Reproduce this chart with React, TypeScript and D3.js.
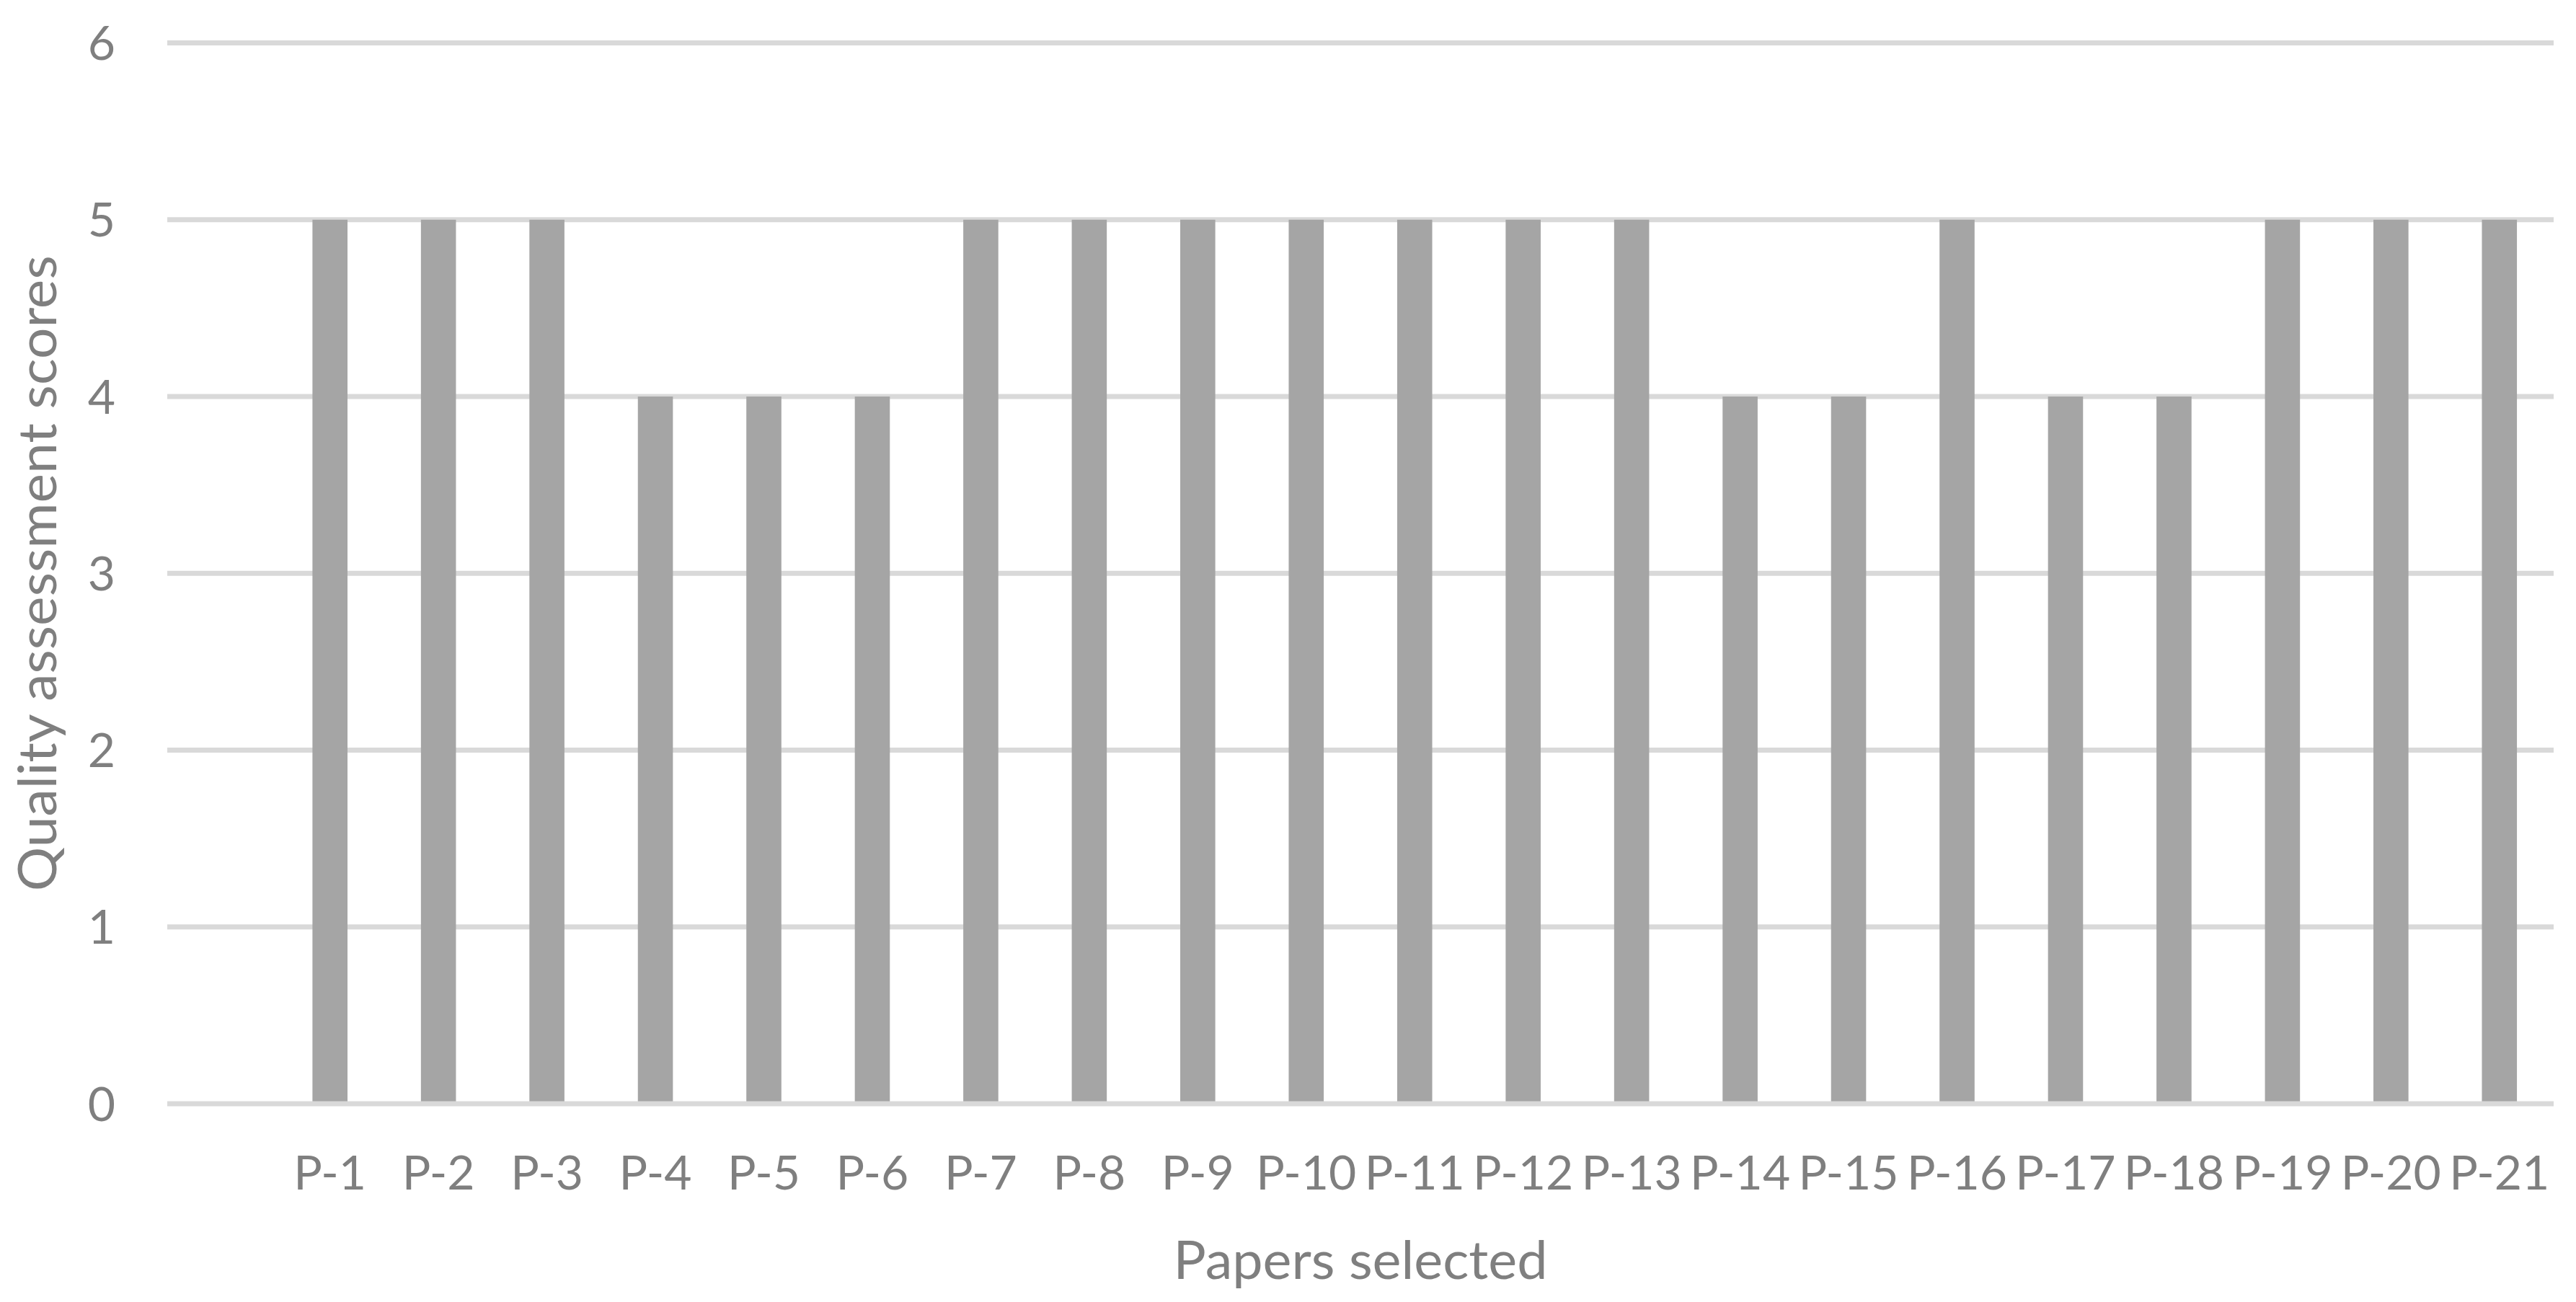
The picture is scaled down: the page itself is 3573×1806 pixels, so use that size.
import React from "react";
import * as d3 from "d3";

const categories: string[] = ["", "P-1", "P-2", "P-3", "P-4", "P-5", "P-6", "P-7", "P-8", "P-9", "P-10", "P-11", "P-12", "P-13", "P-14", "P-15", "P-16", "P-17", "P-18", "P-19", "P-20", "P-21"];
const scores: (number | null)[] = [null, 5, 5, 5, 4, 4, 4, 5, 5, 5, 5, 5, 5, 5, 4, 4, 5, 4, 4, 5, 5, 5];
const yTicks: number[] = [0, 1, 2, 3, 4, 5, 6];
const xTitle = "Papers selected";
const yTitle = "Quality assessment scores";

const W = 3573;
const H = 1806;
const FONT = "Lato, 'Open Sans', sans-serif";
const TEXT = "#7f7f7f";
const GRID = "#d9d9d9";
const BAR = "#a5a5a5";

export default function App() {
  const x = d3.scaleBand<string>().domain(categories).range([232, 3542]).padding(0);
  const y = d3.scaleLinear().domain([0, 6]).range([1531, 59.5]);
  const barW = x.step() * 0.323;
  const data = categories.map((c, i) => ({ c, v: scores[i] }));
  const cx = (232 + 3542) / 2;
  const cy = (y(0) + y(6)) / 2;

  return (
    <>
      <style>{`body{margin:0}`}</style>
      <svg width={W} height={H} style={{ display: "block", background: "#fff" }}>
        {yTicks.filter((t) => t !== 0).map((t) => (
          <line key={t} x1={x.range()[0]} x2={x.range()[1]} y1={y(t)} y2={y(t)} stroke={GRID} strokeWidth={7} />
        ))}
        {data.filter((d) => d.v != null).map((d) => (
          <rect
            key={d.c}
            x={(x(d.c) as number) + x.bandwidth() / 2 - barW / 2}
            y={y(d.v as number)}
            width={barW}
            height={y(0) - y(d.v as number)}
            fill={BAR}
          />
        ))}
        <line x1={x.range()[0]} x2={x.range()[1]} y1={y(0)} y2={y(0)} stroke={GRID} strokeWidth={7} />
        {yTicks.map((t) => (
          <text key={t} x={160} y={y(t) + 23.5} textAnchor="end" fontFamily={FONT} fontSize={66} fill={TEXT}>
            {t}
          </text>
        ))}
        {categories.filter((c) => c !== "").map((c) => (
          <text key={c} x={(x(c) as number) + x.bandwidth() / 2} y={1650} textAnchor="middle" fontFamily={FONT} fontSize={66} fill={TEXT}>
            {c}
          </text>
        ))}
        <text x={cx} y={1774} textAnchor="middle" fontFamily={FONT} fontSize={73} fill={TEXT} textLength={519} lengthAdjust="spacingAndGlyphs">
          {xTitle}
        </text>
        <text transform={`translate(78,${cy}) rotate(-90)`} textAnchor="middle" fontFamily={FONT} fontSize={73} fill={TEXT} textLength={882} lengthAdjust="spacingAndGlyphs">
          {yTitle}
        </text>
      </svg>
    </>
  );
}
